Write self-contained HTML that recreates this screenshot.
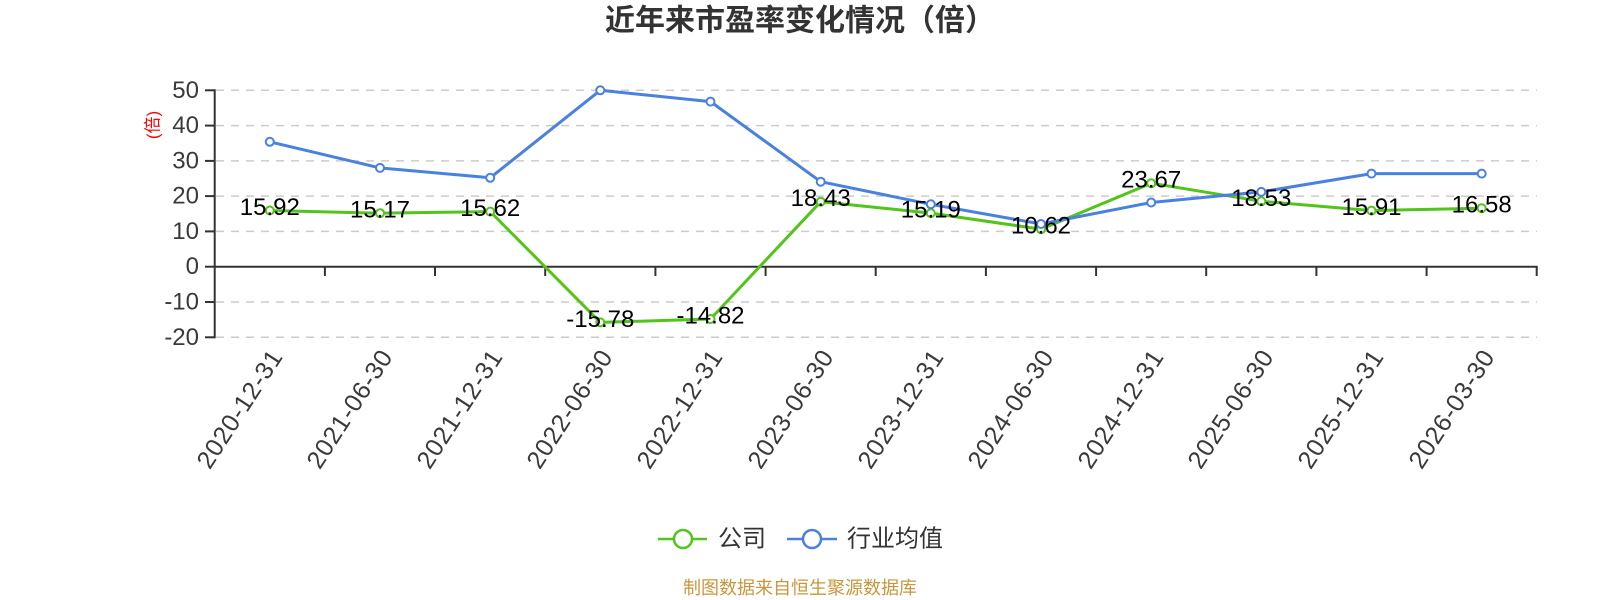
<!DOCTYPE html>
<html>
<head>
<meta charset="utf-8">
<style>
  html, body { margin: 0; padding: 0; background: #ffffff; }
  body { width: 1600px; height: 600px; overflow: hidden; }
  svg { display: block; }
  .cjk { font-family: "Liberation Sans", "Noto Sans CJK SC", sans-serif; }
  .num { font-family: "Liberation Sans", "Noto Sans CJK SC", sans-serif; }
</style>
</head>
<body>
<svg width="1600" height="600" viewBox="0 0 1600 600" xmlns="http://www.w3.org/2000/svg">
  <rect x="0" y="0" width="1600" height="600" fill="#ffffff"/>

  <!-- Title -->
  <text x="800" y="21" class="cjk" font-size="30" font-weight="bold" fill="#333333" text-anchor="middle" dominant-baseline="central">近年来市盈率变化情况（倍）</text>

  <!-- Grid lines (dashed) -->
  <g stroke="#cccccc" stroke-width="1.5" stroke-dasharray="8 7" fill="none">
    <line x1="216" y1="90.3" x2="1537" y2="90.3"/>
    <line x1="216" y1="125.6" x2="1537" y2="125.6"/>
    <line x1="216" y1="160.9" x2="1537" y2="160.9"/>
    <line x1="216" y1="196.1" x2="1537" y2="196.1"/>
    <line x1="216" y1="231.4" x2="1537" y2="231.4"/>
    <line x1="216" y1="302.0" x2="1537" y2="302.0"/>
    <line x1="216" y1="337.3" x2="1537" y2="337.3"/>
  </g>

  <!-- Y axis -->
  <g stroke="#333333" stroke-width="2" fill="none">
    <line x1="214.7" y1="89.3" x2="214.7" y2="338.3"/>
    <line x1="205" y1="90.3" x2="214.7" y2="90.3"/>
    <line x1="205" y1="125.6" x2="214.7" y2="125.6"/>
    <line x1="205" y1="160.9" x2="214.7" y2="160.9"/>
    <line x1="205" y1="196.1" x2="214.7" y2="196.1"/>
    <line x1="205" y1="231.4" x2="214.7" y2="231.4"/>
    <line x1="205" y1="266.7" x2="214.7" y2="266.7"/>
    <line x1="205" y1="302.0" x2="214.7" y2="302.0"/>
    <line x1="205" y1="337.3" x2="214.7" y2="337.3"/>
  </g>

  <!-- X axis (at zero) -->
  <g stroke="#333333" stroke-width="2" fill="none">
    <line x1="213.7" y1="266.7" x2="1537.7" y2="266.7"/>
    <line x1="324.9" y1="266.7" x2="324.9" y2="276"/>
    <line x1="435.0" y1="266.7" x2="435.0" y2="276"/>
    <line x1="545.2" y1="266.7" x2="545.2" y2="276"/>
    <line x1="655.4" y1="266.7" x2="655.4" y2="276"/>
    <line x1="765.6" y1="266.7" x2="765.6" y2="276"/>
    <line x1="875.7" y1="266.7" x2="875.7" y2="276"/>
    <line x1="985.9" y1="266.7" x2="985.9" y2="276"/>
    <line x1="1096.1" y1="266.7" x2="1096.1" y2="276"/>
    <line x1="1206.2" y1="266.7" x2="1206.2" y2="276"/>
    <line x1="1316.4" y1="266.7" x2="1316.4" y2="276"/>
    <line x1="1426.6" y1="266.7" x2="1426.6" y2="276"/>
    <line x1="1536.7" y1="266.7" x2="1536.7" y2="276"/>
  </g>

  <!-- Y axis labels -->
  <g class="num" font-size="24" fill="#3a3a3a" text-anchor="end" dominant-baseline="central">
    <text x="199" y="90.3">50</text>
    <text x="199" y="125.6">40</text>
    <text x="199" y="160.9">30</text>
    <text x="199" y="196.1">20</text>
    <text x="199" y="231.4">10</text>
    <text x="199" y="266.7">0</text>
    <text x="199" y="302.0">-10</text>
    <text x="199" y="337.3">-20</text>
  </g>

  <!-- Y axis name -->
  <text x="153" y="125" class="cjk" font-size="17" fill="#ff0000" text-anchor="middle" dominant-baseline="central" transform="rotate(-90 153 125)">(倍)</text>

  <!-- X axis labels -->
  <g class="num" font-size="25" fill="#3a3a3a" text-anchor="end" dominant-baseline="central" letter-spacing="0.8">
    <text transform="translate(277,352) rotate(-57)">2020-12-31</text>
    <text transform="translate(387,352) rotate(-57)">2021-06-30</text>
    <text transform="translate(497,352) rotate(-57)">2021-12-31</text>
    <text transform="translate(607,352) rotate(-57)">2022-06-30</text>
    <text transform="translate(717,352) rotate(-57)">2022-12-31</text>
    <text transform="translate(828,352) rotate(-57)">2023-06-30</text>
    <text transform="translate(938,352) rotate(-57)">2023-12-31</text>
    <text transform="translate(1048,352) rotate(-57)">2024-06-30</text>
    <text transform="translate(1158,352) rotate(-57)">2024-12-31</text>
    <text transform="translate(1268,352) rotate(-57)">2025-06-30</text>
    <text transform="translate(1378,352) rotate(-57)">2025-12-31</text>
    <text transform="translate(1489,352) rotate(-57)">2026-03-30</text>
  </g>

  <!-- Company series (green) -->
  <polyline fill="none" stroke="#52c41a" stroke-width="3" stroke-linejoin="round"
    points="269.8,210.5 380.0,213.2 490.2,211.6 600.3,322.4 710.5,319.0 820.7,201.7 930.8,213.1 1041.0,229.2 1151.2,183.2 1261.3,201.3 1371.5,210.6 1481.7,208.2"/>
  <g fill="#ffffff" stroke="#52c41a" stroke-width="2">
    <circle cx="269.8" cy="210.5" r="4"/>
    <circle cx="380.0" cy="213.2" r="4"/>
    <circle cx="490.2" cy="211.6" r="4"/>
    <circle cx="600.3" cy="322.4" r="4"/>
    <circle cx="710.5" cy="319.0" r="4"/>
    <circle cx="820.7" cy="201.7" r="4"/>
    <circle cx="930.8" cy="213.1" r="4"/>
    <circle cx="1041.0" cy="229.2" r="4"/>
    <circle cx="1151.2" cy="183.2" r="4"/>
    <circle cx="1261.3" cy="201.3" r="4"/>
    <circle cx="1371.5" cy="210.6" r="4"/>
    <circle cx="1481.7" cy="208.2" r="4"/>
  </g>

  <!-- Industry series (blue) -->
  <polyline fill="none" stroke="#4a80e0" stroke-width="3" stroke-linejoin="round"
    points="269.8,141.8 380.0,167.9 490.2,177.8 600.3,90.3 710.5,101.6 820.7,181.7 930.8,204.3 1041.0,224.0 1151.2,202.5 1261.3,191.9 1371.5,173.6 1481.7,173.6"/>
  <g fill="#ffffff" stroke="#4a80e0" stroke-width="2">
    <circle cx="269.8" cy="141.8" r="4"/>
    <circle cx="380.0" cy="167.9" r="4"/>
    <circle cx="490.2" cy="177.8" r="4"/>
    <circle cx="600.3" cy="90.3" r="4"/>
    <circle cx="710.5" cy="101.6" r="4"/>
    <circle cx="820.7" cy="181.7" r="4"/>
    <circle cx="930.8" cy="204.3" r="4"/>
    <circle cx="1041.0" cy="224.0" r="4"/>
    <circle cx="1151.2" cy="202.5" r="4"/>
    <circle cx="1261.3" cy="191.9" r="4"/>
    <circle cx="1371.5" cy="173.6" r="4"/>
    <circle cx="1481.7" cy="173.6" r="4"/>
  </g>

  <!-- Data labels -->
  <g class="num" font-size="24" fill="#000000" text-anchor="middle" dominant-baseline="central">
    <text x="269.8" y="207.5">15.92</text>
    <text x="380.0" y="210.2">15.17</text>
    <text x="490.2" y="208.6">15.62</text>
    <text x="600.3" y="319.4">-15.78</text>
    <text x="710.5" y="316.0">-14.82</text>
    <text x="820.7" y="198.7">18.43</text>
    <text x="930.8" y="210.1">15.19</text>
    <text x="1041.0" y="226.2">10.62</text>
    <text x="1151.2" y="180.2">23.67</text>
    <text x="1261.3" y="198.3">18.53</text>
    <text x="1371.5" y="207.6">15.91</text>
    <text x="1481.7" y="205.2">16.58</text>
  </g>

  <!-- Legend -->
  <g>
    <line x1="658" y1="539" x2="707" y2="539" stroke="#52c41a" stroke-width="2.5"/>
    <circle cx="683" cy="539" r="9" fill="#ffffff" stroke="#52c41a" stroke-width="2.5"/>
    <text x="718" y="539" class="cjk" font-size="24" fill="#333333" dominant-baseline="central">公司</text>
    <line x1="787" y1="539" x2="837" y2="539" stroke="#4a80e0" stroke-width="2.5"/>
    <circle cx="812" cy="539" r="9" fill="#ffffff" stroke="#4a80e0" stroke-width="2.5"/>
    <text x="847" y="539" class="cjk" font-size="24" fill="#333333" dominant-baseline="central">行业均值</text>
  </g>

  <!-- Footer -->
  <text x="800" y="588" class="cjk" font-size="18" fill="#c8963c" text-anchor="middle" dominant-baseline="central">制图数据来自恒生聚源数据库</text>
</svg>
</body>
</html>
